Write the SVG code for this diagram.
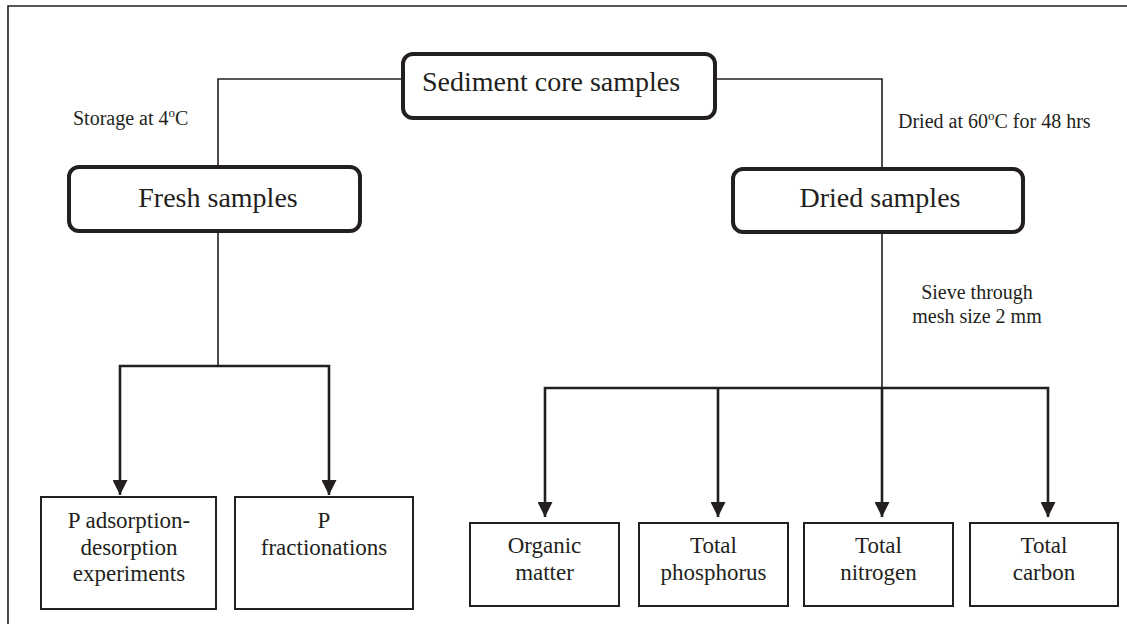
<svg xmlns="http://www.w3.org/2000/svg" width="1127" height="624" viewBox="0 0 1127 624">
  <style>
    text { font-family: "Liberation Serif", "Times New Roman", serif; fill: #231f20; }
    .big { font-size: 28px; }
    .box { font-size: 23px; text-anchor: middle; }
    .lbl { font-size: 20px; }
    .sup { font-size: 13px; }
    .round { fill: #fff; stroke: #231f20; stroke-width: 4; }
    .rect { fill: #fff; stroke: #231f20; stroke-width: 2; }
    .thin { fill: none; stroke: #231f20; stroke-width: 1.6; }
    .arr { fill: none; stroke: #231f20; stroke-width: 2.6; }
  </style>
  <defs>
    <marker id="head" markerUnits="userSpaceOnUse" viewBox="0 0 16 15" refX="15" refY="7.5" markerWidth="16" markerHeight="15" orient="auto">
      <path d="M0,0 L15,7.5 L0,15 Z" fill="#231f20"/>
    </marker>
  </defs>
  <rect width="1127" height="624" fill="#fff"/>

  <!-- frame -->
  <path class="thin" d="M8,624 V6 H1127" stroke-width="2"/>

  <!-- connectors -->
  <g id="connectors">
    <path class="thin" d="M401,79 H218 V165"/>
    <path class="thin" d="M717,79 H882 V167"/>
    <path class="thin" d="M218,233 V366"/>
    <path class="arr" d="M218,366 H120 V495" marker-end="url(#head)"/>
    <path class="arr" d="M218,366 H329 V495" marker-end="url(#head)"/>
    <path class="thin" d="M882,234 V388"/>
    <path class="arr" d="M882,388 V517" marker-end="url(#head)"/>
    <path class="arr" d="M882,388 H545 V517" marker-end="url(#head)"/>
    <path class="arr" d="M718,388 V517" marker-end="url(#head)"/>
    <path class="arr" d="M882,388 H1048 V517" marker-end="url(#head)"/>
  </g>

  <!-- edge labels -->
  <g id="labels">
    <text class="lbl" x="73" y="125">Storage at 4<tspan class="sup" dy="-8">o</tspan><tspan dy="8">C</tspan></text>
    <text class="lbl" x="898" y="128">Dried at 60<tspan class="sup" dy="-8">o</tspan><tspan dy="8">C for 48 hrs</tspan></text>
    <text class="lbl" x="977" y="299" text-anchor="middle">Sieve through</text>
    <text class="lbl" x="977" y="323" text-anchor="middle">mesh size 2 mm</text>
  </g>

  <g id="sediment">
    <rect class="round" x="403" y="54" width="312" height="64" rx="10"/>
    <text class="big" x="422" y="91">Sediment core samples</text>
  </g>
  <g id="fresh">
    <rect class="round" x="69" y="167" width="291" height="64" rx="10"/>
    <text class="big" x="218" y="207" text-anchor="middle">Fresh samples</text>
  </g>
  <g id="dried">
    <rect class="round" x="733" y="169" width="290" height="63" rx="10"/>
    <text class="big" x="880" y="207" text-anchor="middle">Dried samples</text>
  </g>

  <g id="adsorption">
    <rect class="rect" x="41" y="497" width="175" height="112"/>
    <text class="box" x="129" y="528">P adsorption-</text>
    <text class="box" x="129" y="555">desorption</text>
    <text class="box" x="129" y="581">experiments</text>
  </g>
  <g id="fractionations">
    <rect class="rect" x="235" y="497" width="178" height="112"/>
    <text class="box" x="324" y="528">P</text>
    <text class="box" x="324" y="555">fractionations</text>
  </g>
  <g id="organic">
    <rect class="rect" x="470" y="523" width="149" height="83"/>
    <text class="box" x="544.5" y="553">Organic</text>
    <text class="box" x="544.5" y="580">matter</text>
  </g>
  <g id="phosphorus">
    <rect class="rect" x="639" y="523" width="149" height="83"/>
    <text class="box" x="713.5" y="553">Total</text>
    <text class="box" x="713.5" y="580">phosphorus</text>
  </g>
  <g id="nitrogen">
    <rect class="rect" x="804" y="523" width="149" height="83"/>
    <text class="box" x="878.5" y="553">Total</text>
    <text class="box" x="878.5" y="580">nitrogen</text>
  </g>
  <g id="carbon">
    <rect class="rect" x="970" y="523" width="148" height="83"/>
    <text class="box" x="1044" y="553">Total</text>
    <text class="box" x="1044" y="580">carbon</text>
  </g>
</svg>
